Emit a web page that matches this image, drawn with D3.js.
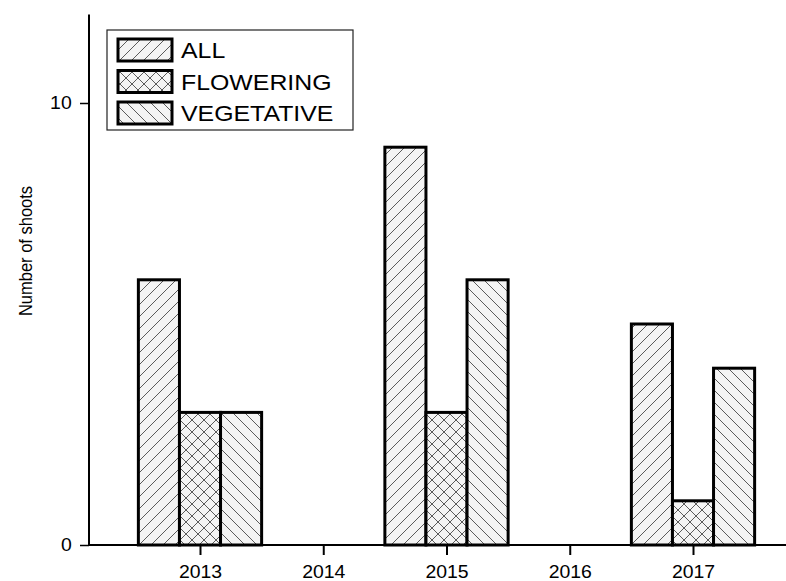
<!DOCTYPE html>
<html>
<head>
<meta charset="utf-8">
<script src="https://cdn.jsdelivr.net/npm/d3@7"></script>
<style>
  body { margin: 0; background: #fff; }
  svg { display: block; font-family: "Liberation Sans", Arial, sans-serif; }
</style>
</head>
<body>
<div id="chart"></div>
<script>
// data
const years = [2013, 2014, 2015, 2016, 2017];
const allShoots = [6, null, 9, null, 5];
const floweringShoots = [3, null, 3, null, 1];
const vegetativeShoots = [3, null, 6, null, 4];
const seriesNames = ["ALL", "FLOWERING", "VEGETATIVE"];
const yTicks = [0, 10];

const width = 786, height = 581;

const svg = d3.select("#chart").append("svg")
    .attr("width", width)
    .attr("height", height);

// hatch patterns
const defs = svg.append("defs");
const hs = 12; // hatch spacing
const addPattern = (id, d) => {
    const p = defs.append("pattern")
        .attr("id", id)
        .attr("patternUnits", "userSpaceOnUse")
        .attr("width", hs)
        .attr("height", hs);
    p.append("rect").attr("width", hs).attr("height", hs).attr("fill", "#f4f4f4");
    p.append("path").attr("d", d)
        .attr("stroke", "#333")
        .attr("stroke-width", 0.8)
        .attr("fill", "none");
};
const fwd = `M-1,1 l2,-2 M0,${hs} l${hs},-${hs} M${hs - 1},${hs + 1} l2,-2`;
const bwd = `M-1,${hs - 1} l2,2 M0,0 l${hs},${hs} M${hs - 1},-1 l2,2`;
addPattern("hatch-all", fwd);
addPattern("hatch-flower", fwd + " " + bwd);
addPattern("hatch-veg", bwd);
const fills = ["url(#hatch-all)", "url(#hatch-flower)", "url(#hatch-veg)"];

// scales
const x = d3.scaleLinear().domain([2013, 2017]).range([200, 693]);
const y = d3.scaleLinear().domain([0, 12]).range([545, 14.6]);
const axisLeft = 89;
const barW = (x(2014) - x(2013)) / 3;

// bars
const series = [allShoots, floweringShoots, vegetativeShoots];
series.forEach((vals, s) => {
    svg.append("g").selectAll("rect")
        .data(years.map((yr, i) => ({ yr, v: vals[i] })).filter(d => d.v != null))
        .join("rect")
        .attr("x", d => x(d.yr) + (s - 1.5) * barW)
        .attr("y", d => y(d.v))
        .attr("width", barW)
        .attr("height", d => y(0) - y(d.v))
        .attr("fill", fills[s])
        .attr("stroke", "#000")
        .attr("stroke-width", 3);
});

// x axis
const xAxis = svg.append("g")
    .attr("transform", `translate(0,${y(0)})`)
    .call(d3.axisBottom(x).tickValues(years).tickFormat(d3.format("d")).tickSize(10).tickPadding(10));
xAxis.select(".domain").remove();
xAxis.append("line")
    .attr("x1", axisLeft).attr("x2", width)
    .attr("stroke", "#000").attr("stroke-width", 2);
xAxis.selectAll(".tick line").attr("stroke-width", 2);
xAxis.selectAll(".tick text")
    .attr("font-size", 18)
    .attr("fill", "#000")
    .attr("transform", "scale(1.08,1)")
    .attr("font-family", "Liberation Sans, Arial, sans-serif");

// y axis
const yAxis = svg.append("g")
    .attr("transform", `translate(${axisLeft},0)`)
    .call(d3.axisLeft(y).tickValues(yTicks).tickSize(9).tickPadding(7));
yAxis.select(".domain").remove();
yAxis.append("line")
    .attr("y1", y.range()[1]).attr("y2", y(0))
    .attr("stroke", "#000").attr("stroke-width", 2);
yAxis.selectAll(".tick line").attr("stroke-width", 1.5);
yAxis.selectAll(".tick text")
    .attr("font-size", 18)
    .attr("fill", "#000")
    .attr("transform", "scale(1.08,1)")
    .attr("font-family", "Liberation Sans, Arial, sans-serif");

svg.append("text")
    .attr("transform", "translate(32,251) scale(1.12,1) rotate(-90)")
    .attr("text-anchor", "middle")
    .attr("font-size", 16.5)
    .text("Number of shoots");

// legend
const legend = svg.append("g");
legend.append("rect")
    .attr("x", 107).attr("y", 30)
    .attr("width", 246).attr("height", 100)
    .attr("fill", "#fff")
    .attr("stroke", "#222")
    .attr("stroke-width", 1.2);
seriesNames.forEach((name, i) => {
    const cy = 50 + i * 31.5;
    legend.append("rect")
        .attr("x", 118).attr("y", cy - 11)
        .attr("width", 54).attr("height", 22)
        .attr("fill", fills[i])
        .attr("stroke", "#000")
        .attr("stroke-width", 3);
    legend.append("text")
        .attr("transform", `translate(181,${cy + 8}) scale(1.13,1)`)
        .attr("font-size", 22)
        .text(name);
});
</script>
</body>
</html>
